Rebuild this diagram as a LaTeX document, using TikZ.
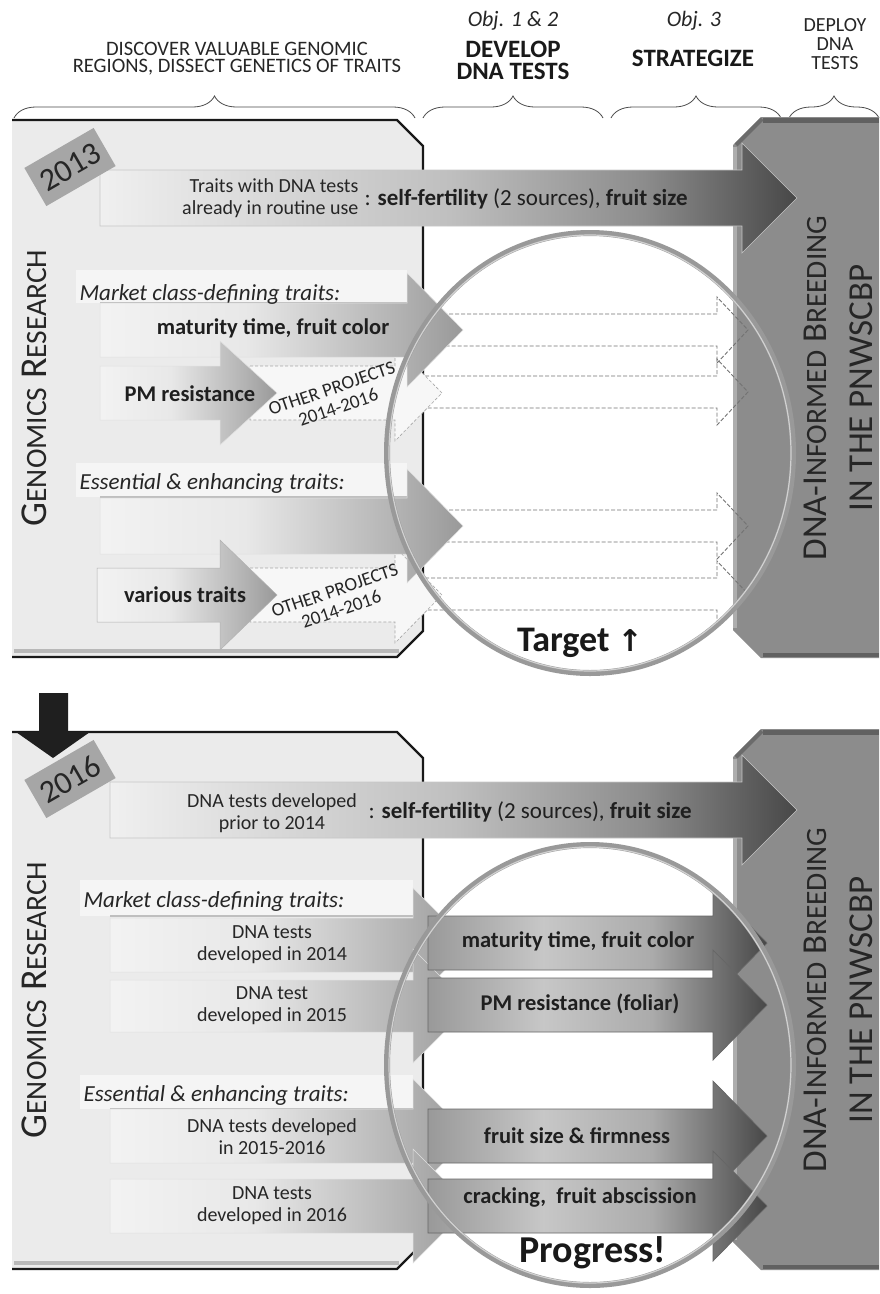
\documentclass[tikz,border=0pt]{standalone}
\usepackage{fontspec}
\setmainfont{Carlito}
\newfontfamily\arrowfont{DejaVu Sans}
\usetikzlibrary{decorations.pathreplacing}

\pgfdeclarehorizontalshading{longfade}{100bp}{color(0bp)=(black!6); color(25bp)=(black!6); color(50bp)=(black!25); color(64bp)=(black!45); color(75bp)=(black!72); color(100bp)=(black!72)}
\pgfdeclarehorizontalshading{leftfade}{100bp}{color(0bp)=(black!5); color(25bp)=(black!5); color(45bp)=(black!9); color(66bp)=(black!30); color(75bp)=(black!40); color(100bp)=(black!40)}
\pgfdeclarehorizontalshading{innerfade}{100bp}{color(0bp)=(black!40); color(25bp)=(black!40); color(42bp)=(black!22); color(58bp)=(black!33); color(75bp)=(black!72); color(100bp)=(black!72)}

% block arrow: [style]{tail x}{head base x}{tip x}{centre y}{half shaft}{half head}
\newcommand{\blockarrow}[7][]{%
  \path[#1] (#2,#5-#6) -- (#3,#5-#6) -- (#3,#5-#7) -- (#4,#5)
    -- (#3,#5+#7) -- (#3,#5+#6) -- (#2,#5+#6) -- cycle;}
\newcommand{\scpart}[1]{{\fontsize{29.5}{29.5}\selectfont #1}}

\tikzset{
  hdr/.style={font=\fontsize{20.5}{17}\selectfont, text=black!85, align=center},
  obj/.style={font=\fontsize{22}{22}\selectfont\itshape, text=black!85},
  goal/.style={font=\fontsize{25}{22}\selectfont\bfseries, text=black!90, align=center},
  note/.style={font=\fontsize{20}{22}\selectfont, text=black!85, align=center},
  trait/.style={font=\fontsize{22.5}{26}\selectfont\bfseries, text=black!88},
  selfline/.style={font=\fontsize{23}{26}\selectfont, text=black!88, anchor=west},
  cls/.style={font=\fontsize{23}{26}\selectfont\itshape, text=black!85, anchor=west},
  vert/.style={rotate=90, text=black!85, align=center, inner sep=1pt},
  yearlbl/.style={fill=black!35, rotate=30, minimum width=80pt, minimum height=44pt,
    inner sep=0pt, font=\fontsize{32}{32}\selectfont, text=black!85},
  other/.style={font=\fontsize{19}{20}\selectfont, rotate=19, align=center, text=black!85},
  brace/.style={decorate, decoration={brace, amplitude=22pt}, draw=black!70, line width=0.8pt},
  panel/.style={fill=black!8},
  panel edge/.style={draw=black!90, line width=2.2pt},
  breed/.style={fill=black!45},
  lens/.style={draw=black!40, line width=6pt},
  lens shine/.style={draw=black!18, line width=1.2pt},
  topbar/.style={shade, shading=longfade, draw=black!22, line width=0.6pt},
  sidebar/.style={shade, shading=leftfade, draw=black!12, line width=0.5pt},
  innerbar/.style={shade, shading=innerfade, draw=black!60, line width=0.7pt},
  openbar/.style={fill=black!3, draw=black!35, dash pattern=on 3pt off 2pt, line width=0.6pt},
  target/.style={draw=black!55, dash pattern=on 4pt off 2pt, line width=0.9pt},
  band/.style={fill=black!4},
  bandline/.style={draw=black!25, line width=1.2pt}
}

\begin{document}
\begin{tikzpicture}[x=1pt, y=-1pt]
\useasboundingbox (0,0) rectangle (879,1294);
\fill[white] (0,0) rectangle (879,1294);

% header
\node[hdr] (discover) at (237,59) {DISCOVER VALUABLE GENOMIC\\REGIONS, DISSECT GENETICS OF TRAITS};
\node[obj] (obj12) at (513,21) {Obj. 1 \& 2};
\node[goal] (develop) at (513,60) {DEVELOP\\DNA TESTS};
\node[obj] (obj3) at (694,21) {Obj. 3};
\node[goal] (strategize) at (693,58) {STRATEGIZE};
\node[hdr, font=\fontsize{20}{19}\selectfont] (deploy) at (835,44) {DEPLOY\\DNA\\TESTS};
\draw[brace] (14,118) -- (415,118);
\draw[brace] (423,118) -- (603,118);
\draw[brace] (611,118) -- (781,118);
\draw[brace] (789,118) -- (879,118);

% panels, breeding box and the long top arrow
\foreach \dy/\ax in {0/100,612/110}{
  \path[panel] (12,120+\dy) -- (397,120+\dy) -- (423,146+\dy) -- (423,631+\dy)
    -- (397,657+\dy) -- (12,657+\dy) -- cycle;
  \draw[black!28, line width=4pt] (14,651+\dy) -- (399,651+\dy);
  \draw[panel edge] (12,120+\dy) -- (397,120+\dy) -- (423,146+\dy) -- (423,631+\dy)
    -- (397,657+\dy) -- (12,657+\dy);
  \path[breed] (733,145+\dy) -- (761,117+\dy) -- (879,117+\dy) -- (879,658+\dy)
    -- (761,658+\dy) -- (733,630+\dy) -- cycle;
  \draw[black!62, line width=5pt] (763,120+\dy) -- (879,120+\dy);
  \draw[black!58, line width=4pt] (736,145+\dy) -- (762,119+\dy);
  \draw[black!32, line width=4pt] (735,147+\dy) -- (735,628+\dy);
  \draw[black!62, line width=4pt] (763,655+\dy) -- (879,655+\dy);
  \blockarrow[topbar]{\ax}{742}{797}{198+\dy}{28}{55}
}

% 2013: targets
\path[band] (76,270) rectangle (407,303);
\draw[bandline] (100,303) -- (407,303);
\path[band] (76,463) rectangle (407,497);
\draw[bandline] (100,497) -- (407,497);
\foreach \yc in {330,392,526,594}{
  \blockarrow[target]{425}{717}{748}{\yc}{16}{33}
}
\blockarrow[openbar]{250}{395}{442}{393}{27}{48}
\blockarrow[openbar]{250}{395}{442}{595}{27}{48}
\blockarrow[sidebar]{100}{407}{463}{330}{27}{57}
\blockarrow[sidebar]{100}{220}{277}{393}{27}{52}
\blockarrow[sidebar]{100}{407}{463}{526}{28}{57}
\blockarrow[sidebar, draw=black!30]{97}{220}{277}{595}{27}{55}

% 2016: progress
\path[band] (80,880) rectangle (413,916);
\draw[bandline] (110,916) -- (413,916);
\path[band] (80,1075) rectangle (413,1109);
\draw[bandline] (110,1109) -- (413,1109);
\foreach \yc/\hs in {945/27,1006/26,1136/27,1206/27}{
  \blockarrow[sidebar]{110}{413}{470}{\yc}{\hs}{57}
}
\foreach \yc in {943,1005,1136,1206}{
  \blockarrow[innerbar]{428}{713}{767}{\yc}{27}{55}
}

% black step arrow
\path[fill=black!88] (39,693) -- (68,693) -- (68,732) -- (90,732) -- (53,758)
  -- (16,732) -- (39,732) -- cycle;

% lenses, side titles, years
\foreach \dy/\yr in {0/2013,612/2016}{
  \path[lens] (590,453+\dy) ellipse [x radius=203pt, y radius=220pt];
  \path[lens shine] (590,453+\dy) ellipse [x radius=201pt, y radius=218pt];
  \node[vert, font=\fontsize{38}{38}\selectfont] (genomics\yr) at (34,388+\dy)
    {G\scpart{ENOMICS} R\scpart{ESEARCH}};
  \node[vert, font=\fontsize{35}{46}\selectfont] (breeding\yr) at (838,388+\dy)
    {DNA-I\scpart{NFORMED} B\scpart{REEDING}\\IN THE PNWSCBP};
  \node[yearlbl] (year\yr) at (70,167+\dy) {\yr};
}

% 2013 texts
\node[note, anchor=east, align=right] (routine) at (362,198) {Traits with DNA tests\\already in routine use};
\node[selfline] (selffert13) at (361,199) {: \textbf{self-fertility} (2 sources), \textbf{fruit size}};
\node[cls] (market13) at (76,294) {Market class-defining traits:};
\node[trait] (maturity13) at (273,328) {maturity time, fruit color};
\node[trait] (pm13) at (190,394) {PM resistance};
\node[other] (otherpm) at (335,398) {OTHER PROJECTS\\2014-2016};
\node[cls] (essential13) at (76,483) {Essential \& enhancing traits:};
\node[trait] (various) at (185,595) {various traits};
\node[other] (othervar) at (338,600) {OTHER PROJECTS\\2014-2016};
\node[font=\fontsize{36}{36}\selectfont\bfseries, text=black!90] (target) at (580,643)
  {Target {\arrowfont\fontsize{30}{30}\selectfont ↑}};

% 2016 texts
\node[note] (prior) at (272,813) {DNA tests developed\\prior to 2014};
\node[selfline] (selffert16) at (365,812) {: \textbf{self-fertility} (2 sources), \textbf{fruit size}};
\node[cls] (market16) at (80,901) {Market class-defining traits:};
\node[note] (dev2014) at (272,945) {DNA tests\\developed in 2014};
\node[note] (dev2015) at (272,1006) {DNA test\\developed in 2015};
\node[cls] (essential16) at (80,1095) {Essential \& enhancing traits:};
\node[note] (dev1516) at (272,1137) {DNA tests developed\\in 2015-2016};
\node[note] (dev2016) at (272,1206) {DNA tests\\developed in 2016};
\node[trait] (maturity16) at (578,941) {maturity time, fruit color};
\node[trait] (pm16) at (580,1004) {PM resistance (foliar)};
\node[trait] (firmness16) at (577,1136) {fruit size \& firmness};
\node[trait] (cracking16) at (580,1197) {cracking,\ \ fruit abscission};
\node[font=\fontsize{38}{38}\selectfont\bfseries, text=black!90] (progress) at (593,1253) {Progress!};
\end{tikzpicture}
\end{document}
